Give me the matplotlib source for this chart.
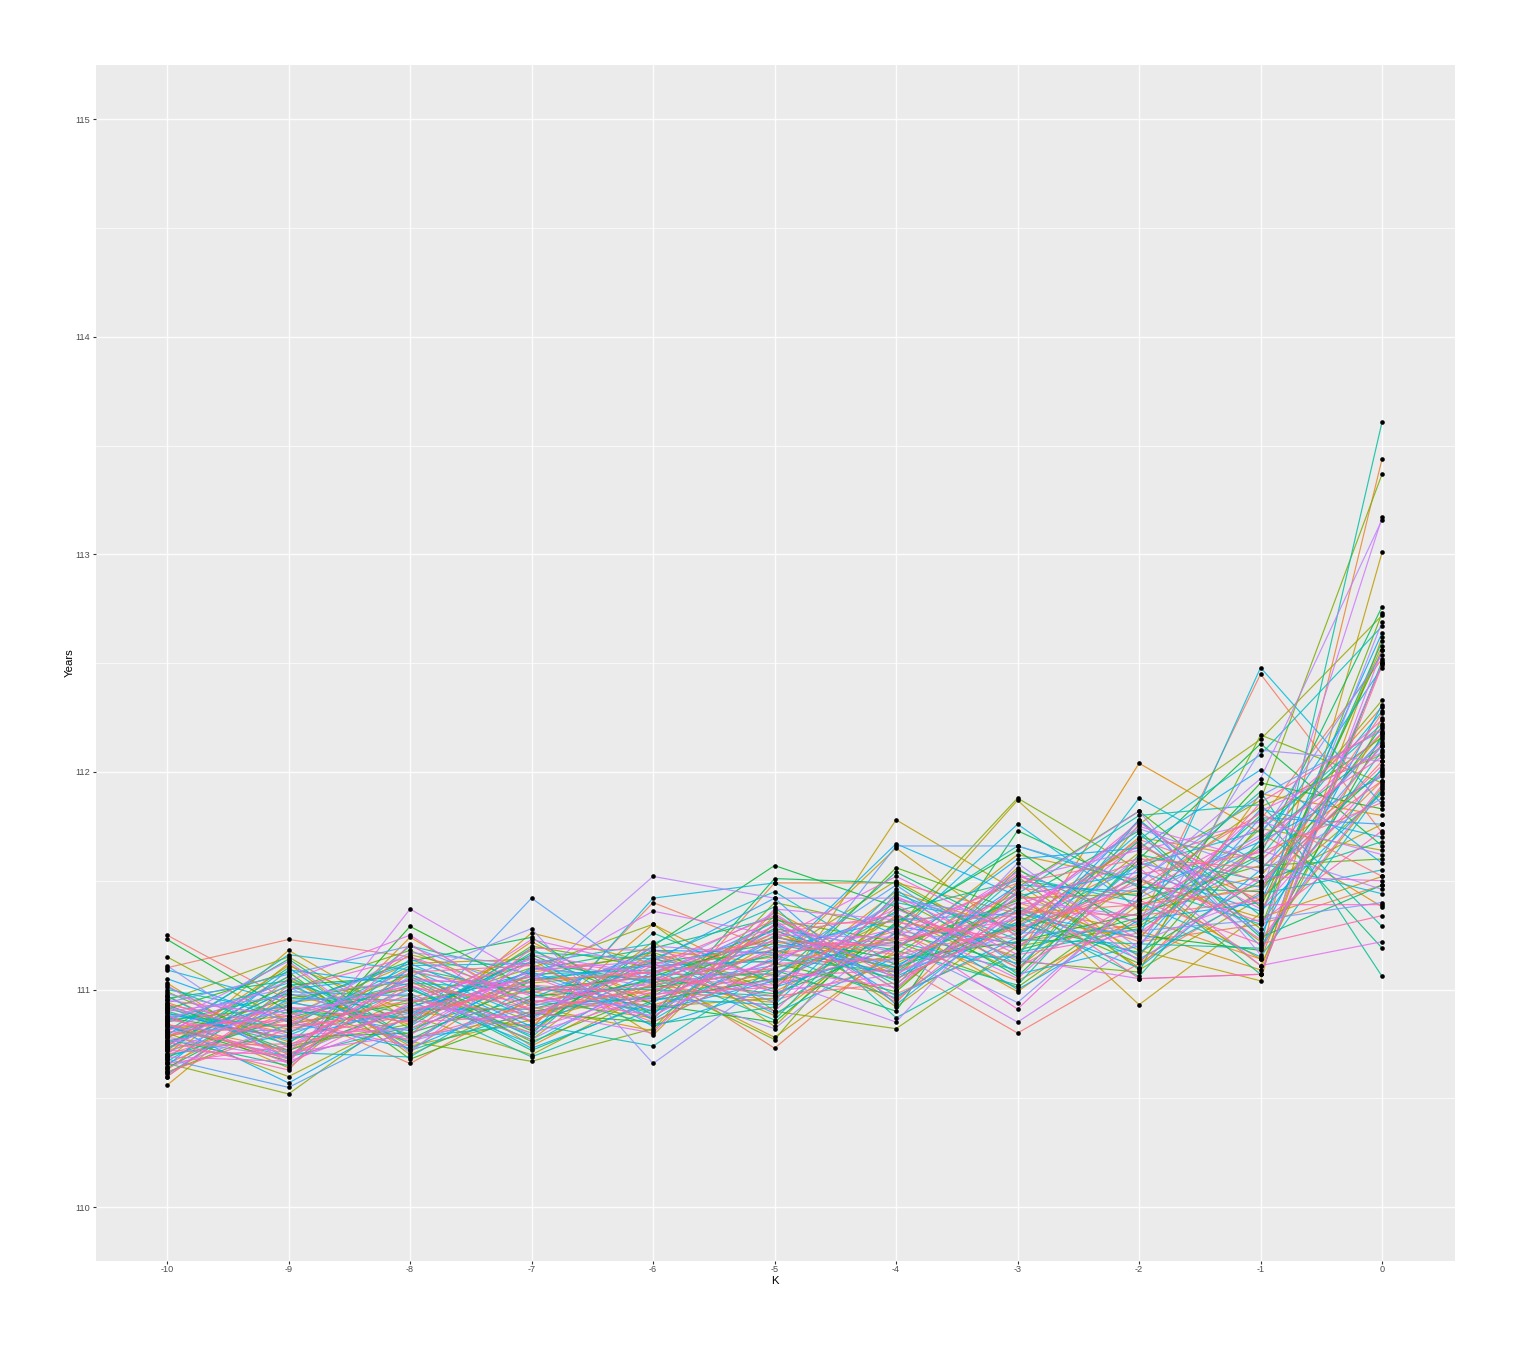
import numpy as np
import matplotlib
matplotlib.use('Agg')
import matplotlib.pyplot as plt

plt.rcParams['font.family'] = ['Liberation Sans', 'DejaVu Sans']

k_values = [-10, -9, -8, -7, -6, -5, -4, -3, -2, -1, 0]
y_ticks = [110, 111, 112, 113, 114, 115]

# one list per walk, values at K = -10 ... 0
w01 = [111.25, 110.95, 110.78, 110.88, 111.02, 110.95, 111.12, 110.80, 111.12, 111.45, 112.05]
w02 = [111.10, 111.23, 111.15, 110.90, 110.95, 111.05, 110.98, 111.22, 111.30, 112.45, 111.72]
w03 = [110.72, 110.86, 111.02, 110.82, 111.40, 111.18, 111.08, 111.31, 111.58, 111.78, 112.52]
w04 = [110.66, 110.90, 110.66, 110.96, 111.09, 110.73, 111.20, 111.40, 111.22, 111.30, 111.48]
w05 = [110.84, 110.72, 110.96, 111.12, 110.86, 111.49, 111.49, 111.35, 111.66, 111.41, 111.96]
w06 = [110.78, 111.06, 110.72, 111.08, 111.16, 110.99, 111.26, 111.04, 111.33, 111.14, 113.44]
w07 = [110.91, 110.80, 111.10, 110.74, 111.03, 111.28, 110.94, 111.49, 111.10, 111.67, 112.30]
w08 = [110.60, 110.98, 110.84, 111.22, 110.93, 111.07, 111.33, 111.15, 112.04, 111.72, 111.38]
w09 = [110.74, 111.11, 110.90, 110.83, 111.30, 111.02, 111.45, 111.27, 111.46, 111.14, 112.50]
w10 = [111.03, 110.68, 111.24, 110.92, 110.81, 111.36, 111.06, 111.56, 111.15, 111.90, 111.80]
w11 = [110.56, 111.02, 110.79, 111.26, 111.12, 110.88, 111.30, 110.99, 111.39, 111.52, 112.18]
w12 = [110.88, 110.64, 111.08, 110.99, 110.90, 111.22, 111.12, 111.38, 111.27, 111.09, 112.62]
w13 = [110.70, 111.18, 110.86, 111.05, 111.06, 110.78, 111.18, 111.62, 111.50, 111.33, 111.52]
w14 = [110.94, 110.76, 110.98, 110.77, 111.18, 111.12, 111.65, 111.24, 111.70, 111.60, 111.99]
w15 = [110.82, 110.88, 111.12, 111.14, 110.79, 111.34, 111.00, 111.45, 110.93, 111.35, 112.58]
w16 = [110.63, 111.05, 110.74, 110.86, 111.00, 110.94, 111.78, 111.45, 111.18, 111.04, 113.01]
w17 = [110.97, 110.70, 110.93, 111.18, 110.96, 111.08, 111.24, 111.87, 111.36, 111.48, 111.76]
w18 = [110.76, 110.94, 111.00, 110.80, 111.22, 110.83, 111.38, 111.10, 111.52, 111.11, 112.25]
w19 = [110.68, 111.12, 110.70, 110.95, 110.87, 111.30, 110.92, 111.33, 111.24, 111.74, 111.64]
w20 = [110.89, 110.82, 111.16, 111.03, 111.08, 111.15, 111.50, 111.19, 111.63, 111.22, 111.93]
w21 = [110.80, 110.60, 110.88, 110.70, 110.99, 111.26, 111.09, 111.42, 111.44, 111.84, 112.08]
w22 = [110.95, 111.15, 110.82, 111.01, 110.92, 110.96, 111.34, 111.08, 111.76, 112.15, 112.72]
w23 = [111.15, 110.85, 111.07, 110.85, 111.14, 111.04, 111.16, 111.52, 111.09, 111.42, 111.90]
w24 = [110.66, 110.52, 110.92, 111.10, 111.30, 110.90, 110.82, 111.20, 111.29, 111.66, 112.33]
w25 = [110.86, 110.92, 110.76, 110.67, 110.82, 111.40, 111.28, 111.88, 111.55, 111.87, 113.37]
w26 = [110.73, 111.00, 111.18, 110.94, 111.04, 110.77, 111.42, 111.13, 111.08, 112.17, 111.95]
w27 = [110.99, 110.74, 110.84, 111.20, 111.10, 111.18, 111.05, 111.30, 111.68, 111.28, 112.73]
w28 = [110.78, 110.96, 111.04, 110.76, 110.98, 111.32, 111.22, 111.01, 111.41, 111.57, 111.60]
w29 = [110.62, 110.84, 110.94, 111.06, 111.17, 111.00, 111.56, 111.36, 111.12, 111.76, 112.16]
w30 = [110.91, 111.08, 110.68, 110.89, 110.85, 111.12, 110.99, 111.47, 111.82, 111.38, 112.56]
w31 = [110.83, 110.67, 111.29, 111.00, 111.06, 111.24, 111.14, 111.22, 111.35, 111.95, 111.83]
w32 = [111.23, 110.90, 110.87, 111.16, 110.93, 110.85, 111.31, 111.64, 111.25, 111.18, 112.17]
w33 = [110.75, 111.02, 111.06, 110.81, 111.20, 111.57, 111.38, 111.06, 111.60, 112.13, 111.66]
w34 = [110.87, 110.78, 110.80, 110.97, 111.01, 111.09, 110.90, 111.73, 111.47, 111.45, 112.21]
w35 = [110.64, 110.93, 111.13, 111.24, 110.88, 111.51, 111.49, 111.18, 111.33, 111.62, 112.76]
w36 = [110.93, 110.72, 110.91, 110.91, 111.05, 110.98, 111.20, 111.41, 111.73, 111.24, 111.48]
w37 = [110.81, 111.14, 110.77, 111.04, 111.12, 111.21, 111.10, 111.30, 111.17, 111.50, 112.01]
w38 = [110.69, 110.87, 111.01, 110.72, 110.95, 111.05, 111.54, 111.26, 111.52, 111.07, 112.51]
w39 = [110.96, 111.04, 110.85, 111.09, 111.19, 111.33, 111.02, 111.55, 111.30, 111.80, 111.19]
w40 = [110.77, 110.65, 111.10, 110.98, 110.84, 110.92, 111.26, 111.12, 111.78, 111.34, 112.60]
w41 = [110.85, 110.98, 110.89, 111.13, 111.03, 111.16, 110.96, 111.34, 111.06, 111.69, 112.12]
w42 = [111.01, 110.80, 111.05, 110.78, 111.26, 111.03, 111.36, 111.50, 111.43, 111.91, 111.06]
w43 = [110.72, 111.10, 110.72, 110.90, 110.97, 111.28, 111.18, 111.02, 111.62, 111.50, 111.68]
w44 = [110.90, 110.75, 111.20, 111.07, 111.09, 110.86, 111.44, 111.23, 111.21, 111.19, 113.61]
w45 = [110.61, 110.96, 110.95, 110.69, 110.91, 111.14, 111.08, 111.44, 111.80, 111.85, 111.29]
w46 = [110.83, 110.69, 110.83, 111.17, 111.14, 111.38, 110.87, 111.17, 111.28, 111.61, 112.28]
w47 = [111.00, 110.89, 111.03, 111.00, 111.00, 110.97, 111.30, 111.66, 111.48, 111.30, 112.10]
w48 = [110.74, 111.06, 110.78, 110.84, 110.74, 111.10, 111.22, 111.09, 111.69, 112.08, 112.67]
w49 = [110.88, 110.83, 111.11, 111.12, 111.21, 111.45, 111.11, 111.38, 111.14, 111.44, 111.55]
w50 = [110.67, 110.99, 110.97, 110.75, 111.07, 111.07, 111.40, 111.29, 111.57, 111.73, 112.22]
w51 = [110.92, 110.71, 110.69, 111.02, 110.89, 111.25, 111.04, 111.52, 111.40, 111.15, 111.92]
w52 = [110.79, 111.16, 111.09, 110.87, 111.15, 110.89, 111.15, 111.15, 111.88, 111.58, 111.44]
w53 = [111.09, 110.94, 110.86, 111.19, 110.86, 111.19, 111.32, 111.35, 111.24, 112.48, 111.85]
w54 = [110.70, 110.79, 111.00, 110.79, 111.42, 111.49, 111.25, 111.76, 111.37, 111.66, 112.48]
w55 = [110.86, 111.03, 110.75, 111.10, 111.04, 111.31, 110.97, 111.24, 111.72, 111.20, 112.02]
w56 = [110.97, 110.68, 111.14, 110.93, 110.96, 110.93, 111.46, 111.07, 111.20, 111.83, 111.70]
w57 = [110.76, 110.91, 110.81, 111.05, 111.11, 111.13, 111.67, 111.43, 111.54, 111.36, 111.91]
w58 = [110.65, 111.09, 111.02, 110.73, 110.94, 111.23, 111.06, 111.31, 111.10, 111.55, 112.15]
w59 = [110.84, 110.57, 110.88, 111.15, 110.83, 111.01, 111.19, 111.60, 111.65, 112.01, 111.58]
w60 = [111.05, 110.85, 110.73, 110.96, 111.18, 111.17, 111.35, 111.00, 111.32, 111.40, 112.64]
w61 = [110.73, 111.00, 111.07, 110.83, 111.08, 111.27, 111.10, 111.48, 111.45, 111.68, 111.98]
w62 = [110.89, 110.77, 110.92, 111.08, 110.90, 111.04, 111.29, 111.21, 111.78, 111.25, 112.31]
w63 = [110.80, 110.93, 111.12, 110.88, 111.13, 111.42, 110.93, 111.37, 111.16, 111.79, 111.76]
w64 = [110.68, 110.55, 110.83, 111.42, 111.02, 111.11, 111.48, 111.11, 111.58, 111.47, 112.12]
w65 = [110.94, 111.07, 111.20, 110.98, 111.16, 110.94, 111.66, 111.66, 111.50, 111.89, 112.19]
w66 = [110.82, 110.81, 110.89, 111.07, 110.87, 111.30, 111.08, 111.26, 111.27, 111.32, 111.40]
w67 = [110.71, 110.95, 110.98, 110.77, 111.05, 111.20, 111.21, 110.94, 111.42, 111.71, 112.54]
w68 = [111.11, 110.73, 111.06, 111.28, 110.66, 111.06, 111.41, 111.33, 111.74, 111.54, 111.88]
w69 = [110.87, 111.01, 110.76, 110.92, 111.09, 111.35, 111.00, 111.58, 111.19, 112.10, 112.05]
w70 = [110.98, 110.86, 111.17, 111.11, 111.01, 110.82, 111.27, 111.19, 111.61, 111.26, 112.69]
w71 = [110.77, 110.69, 110.93, 110.86, 111.20, 111.16, 111.13, 111.40, 111.34, 111.64, 111.46]
w72 = [110.90, 110.97, 111.04, 111.03, 111.52, 111.42, 111.42, 111.28, 111.49, 111.97, 113.16]
w73 = [110.64, 110.84, 111.09, 110.95, 110.92, 111.05, 110.85, 111.46, 111.82, 111.16, 112.50]
w74 = [110.85, 111.13, 110.71, 111.16, 111.07, 111.29, 111.17, 110.85, 111.22, 111.43, 113.17]
w75 = [111.02, 110.66, 111.37, 111.05, 111.36, 111.25, 111.24, 111.51, 111.64, 111.77, 111.62]
w76 = [110.75, 110.91, 110.96, 110.80, 110.97, 111.13, 111.37, 111.14, 111.05, 111.07, 112.56]
w77 = [110.92, 110.79, 110.82, 111.09, 111.13, 110.99, 111.07, 111.34, 111.75, 111.59, 112.14]
w78 = [110.81, 111.04, 111.25, 110.90, 110.80, 111.37, 111.32, 111.05, 111.56, 111.11, 111.22]
w79 = [110.69, 110.67, 110.87, 111.23, 111.10, 111.09, 111.01, 111.43, 111.31, 111.82, 112.09]
w80 = [110.95, 110.88, 111.02, 110.82, 110.99, 111.23, 111.52, 111.25, 111.67, 111.37, 112.00]
w81 = [110.78, 110.71, 110.79, 111.13, 111.05, 111.02, 111.19, 111.54, 111.13, 111.52, 111.50]
w82 = [110.60, 111.00, 111.15, 110.97, 110.88, 111.15, 111.28, 110.91, 111.44, 111.75, 112.24]
w83 = [110.88, 110.66, 110.94, 111.14, 111.07, 111.32, 110.95, 111.39, 111.59, 111.23, 111.94]
w84 = [110.79, 110.92, 110.85, 110.88, 111.12, 110.90, 111.43, 111.16, 111.26, 111.65, 112.18]
w85 = [110.66, 110.74, 111.05, 111.01, 110.95, 111.19, 111.23, 111.32, 111.77, 111.39, 111.39]
w86 = [110.83, 110.86, 110.74, 111.19, 111.18, 111.06, 111.09, 111.47, 111.38, 111.70, 112.07]
w87 = [110.72, 110.70, 111.01, 110.94, 111.03, 111.26, 111.34, 111.20, 111.51, 111.31, 111.73]
w88 = [110.93, 110.83, 110.90, 111.06, 110.85, 111.12, 111.14, 111.53, 111.23, 111.86, 112.20]
w89 = [110.76, 110.63, 111.21, 110.85, 111.11, 111.34, 111.05, 111.29, 111.69, 111.49, 112.03]
w90 = [110.86, 110.78, 110.88, 111.02, 110.98, 111.01, 111.39, 111.10, 111.41, 111.21, 111.34]
w91 = [110.70, 110.88, 110.77, 110.93, 111.14, 111.22, 111.20, 111.44, 111.05, 111.07, 112.49]
w92 = [110.81, 110.72, 111.08, 111.11, 110.91, 111.30, 111.31, 111.23, 111.53, 111.63, 111.86]
w93 = [110.62, 110.82, 110.91, 110.99, 111.06, 110.97, 111.03, 111.36, 111.34, 111.41, 112.13]
w94 = [110.84, 110.68, 111.03, 110.91, 111.00, 111.10, 111.27, 111.49, 111.60, 111.56, 111.96]
w95 = [110.74, 110.75, 110.86, 111.04, 111.08, 111.24, 111.16, 111.28, 111.47, 111.81, 111.52]
w96 = [110.79, 110.84, 110.95, 110.89, 111.02, 111.17, 111.22, 111.35, 111.39, 111.46, 112.27]

walks = [w01, w02, w03, w04, w05, w06, w07, w08, w09, w10, w11, w12,
         w13, w14, w15, w16, w17, w18, w19, w20, w21, w22, w23, w24,
         w25, w26, w27, w28, w29, w30, w31, w32, w33, w34, w35, w36,
         w37, w38, w39, w40, w41, w42, w43, w44, w45, w46, w47, w48,
         w49, w50, w51, w52, w53, w54, w55, w56, w57, w58, w59, w60,
         w61, w62, w63, w64, w65, w66, w67, w68, w69, w70, w71, w72,
         w73, w74, w75, w76, w77, w78, w79, w80, w81, w82, w83, w84,
         w85, w86, w87, w88, w89, w90, w91, w92, w93, w94, w95, w96]


def hue_colour(h, c=100.0, l=65.0):
    # same as R's hcl(h, c, l), used for the ggplot default palette
    u = c * np.cos(np.radians(h))
    v = c * np.sin(np.radians(h))
    un, vn = 0.19793943, 0.46831096
    y = ((l + 16) / 116) ** 3
    up = u / (13 * l) + un
    vp = v / (13 * l) + vn
    x = 9 * y * up / (4 * vp)
    z = -x / 3 - 5 * y + 3 * y / vp
    rgb = np.array([3.2406 * x - 1.5372 * y - 0.4986 * z,
                    -0.9689 * x + 1.8758 * y + 0.0415 * z,
                    0.0557 * x - 0.2040 * y + 1.0570 * z])
    rgb = np.clip(rgb, 0, 1)
    return np.where(rgb <= 0.0031308, 12.92 * rgb, 1.055 * rgb ** (1 / 2.4) - 0.055)


fig = plt.figure(figsize=(15.2, 13.51), dpi=100)
ax = fig.add_axes([96 / 1520, 1 - 1261 / 1351, (1455 - 96) / 1520, (1261 - 65) / 1351])
ax.set_facecolor('#EBEBEB')
for side in ax.spines.values():
    side.set_visible(False)

ax.set_xlim(-10.585, 0.6)
ax.set_ylim(109.752, 115.25)

ax.set_xticks(k_values)
ax.set_xticklabels([str(k) for k in k_values])
ax.set_yticks(y_ticks)
ax.set_yticks([y + 0.5 for y in y_ticks[:-1]], minor=True)
ax.grid(True, which='major', color='white', linewidth=1.0, alpha=0.9)
ax.grid(True, which='minor', axis='y', color='white', linewidth=0.55, alpha=0.9)
ax.set_axisbelow(True)
ax.tick_params(axis='both', which='major', length=2.2, width=0.8, color='#333333',
               labelcolor='#4D4D4D', labelsize=6.6, pad=2)
ax.tick_params(axis='x', which='major', pad=1)
ax.tick_params(axis='both', which='minor', length=0)

n = len(walks)
for i, walk in enumerate(walks):
    ax.plot(k_values, walk, color=hue_colour(15 + 360 * i / n), linewidth=0.85, alpha=0.85, zorder=2)
for walk in walks:
    ax.scatter(k_values, walk, s=11, color='black', linewidths=0, zorder=3)

fig.text(775 / 1520, 1 - 1281 / 1351, 'K', ha='center', va='center', fontsize=8.2)
fig.text(69.5 / 1520, 1 - 663 / 1351, 'Years', ha='center', va='center', rotation=90, fontsize=8.2)

fig.savefig('out.png', dpi=100)
